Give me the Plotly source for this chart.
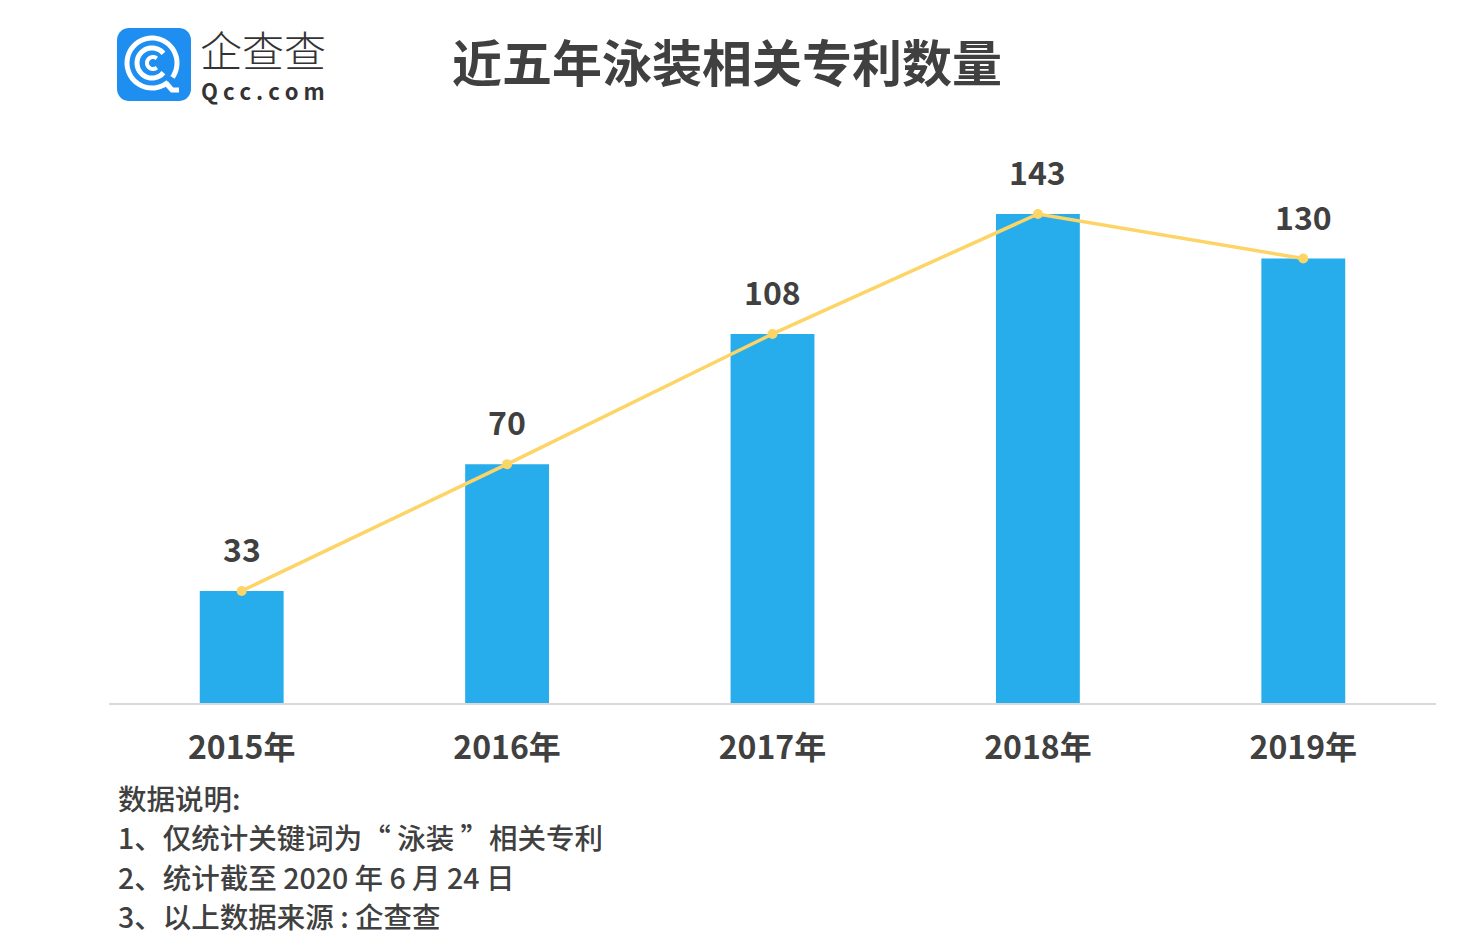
import math
import plotly.graph_objects as go

categories = ["2015年", "2016年", "2017年", "2018年", "2019年"]
values = [33, 70, 108, 143, 130]
title_text = "近五年泳装相关专利数量"
notes = ["数据说明:", "1、仅统计关键词为“ 泳装 ”相关专利", "2、统计截至 2020 年 6 月 24 日", "3、以上数据来源 : 企查查"]

OFF = 8  # page offset of the figure
W, H = 1466, 945
L, R, T, B = 109 - OFF, 30 + OFF, 150 - OFF, 241 + OFF
PW, PH = W - L - R, H - T - B
FONT = "Noto Sans CJK SC"
TXT = "#404040"
BAR = "#27ADEB"
LINE = "#FDD466"


def px(x, y):
    x -= OFF
    y -= OFF
    return (x - L) / PW, (H - B - y) / PH


fig = go.Figure()
fig.add_trace(go.Bar(x=categories, y=values, marker=dict(color=BAR, line=dict(width=0)),
                     hoverinfo="skip", showlegend=False))
fig.add_trace(go.Scatter(x=categories, y=values, mode="lines+markers",
                         line=dict(color=LINE, width=3.5), marker=dict(color=LINE, size=10),
                         showlegend=False, cliponaxis=False, hoverinfo="skip"))

shapes = []
x0, y0 = px(109, 704)
x1, _ = px(1436, 704)
shapes.append(dict(type="line", xref="paper", yref="paper", x0=x0, x1=x1, y0=y0, y1=y0,
                   line=dict(color="#D9D9D9", width=2), layer="above"))


def path_from_pts(pts, close=False):
    s = ""
    for i, (x, y) in enumerate(pts):
        a, b = px(x, y)
        s += ("M" if i == 0 else "L") + f"{a:.5f},{b:.5f} "
    if close:
        s += "Z"
    return s


rx0, ry0, rx1, ry1, rr = 117, 28, 191, 101, 12
pts = []
for cx, cy, a0 in [(rx1 - rr, ry0 + rr, -90), (rx1 - rr, ry1 - rr, 0), (rx0 + rr, ry1 - rr, 90), (rx0 + rr, ry0 + rr, 180)]:
    for k in range(10):
        a = math.radians(a0 + 90 * k / 9)
        pts.append((cx + rr * math.cos(a), cy + rr * math.sin(a)))
shapes.append(dict(type="path", xref="paper", yref="paper", path=path_from_pts(pts, True),
                   fillcolor="#1E8FF0", line=dict(width=0)))


def arc(cx, cy, r, a0, a1, n=40):
    return [(cx + r * math.cos(math.radians(a0 + (a1 - a0) * k / n)),
             cy + r * math.sin(math.radians(a0 + (a1 - a0) * k / n))) for k in range(n + 1)]


ccx, ccy = 152, 63
shapes.append(dict(type="path", xref="paper", yref="paper", path=path_from_pts(arc(ccx, ccy, 25, 50, 395, 60)),
                   line=dict(color="white", width=5)))
shapes.append(dict(type="path", xref="paper", yref="paper",
                   path=path_from_pts([(ccx + 14, ccy + 20), (ccx + 20, ccy + 27), (ccx + 27, ccy + 27)]),
                   line=dict(color="white", width=5)))
shapes.append(dict(type="path", xref="paper", yref="paper", path=path_from_pts(arc(ccx, ccy, 15, 40, 320, 50)),
                   line=dict(color="white", width=5)))
shapes.append(dict(type="path", xref="paper", yref="paper", path=path_from_pts(arc(ccx + 1, ccy, 6, 50, 310, 30)),
                   line=dict(color="white", width=4)))

annotations = []
for c, v in zip(categories, values):
    annotations.append(dict(text=str(v), x=c, y=v, xref="x", yref="y", showarrow=False,
                            xanchor="center", yanchor="middle", yshift=43,
                            font=dict(family=FONT, size=32, color=TXT, weight="bold")))
ax, ay = px(727, 60)
annotations.append(dict(text=title_text, x=ax, y=ay, xref="paper", yref="paper", showarrow=False,
                        xanchor="center", yanchor="middle",
                        font=dict(family=FONT, size=50, color=TXT, weight="bold")))
ax, ay = px(198, 48)
annotations.append(dict(text="企查查", x=ax, y=ay, xref="paper", yref="paper", showarrow=False,
                        xanchor="left", yanchor="middle",
                        font=dict(family=FONT, size=42, color="#333333", weight=300)))
ax, ay = px(199, 90)
annotations.append(dict(text="Q c c . c o m", x=ax, y=ay, xref="paper", yref="paper", showarrow=False,
                        xanchor="left", yanchor="middle",
                        font=dict(family=FONT, size=22, color="#333333", weight="bold")))
for i, n in enumerate(notes):
    ax, ay = px(116, 797 + 39.5 * i)
    annotations.append(dict(text=n, x=ax, y=ay, xref="paper", yref="paper", showarrow=False,
                            xanchor="left", yanchor="middle",
                            font=dict(family=FONT, size=28.5, color=TXT, weight=500)))

fig.update_layout(
    width=W, height=H, margin=dict(l=L, r=R, t=T, b=B),
    paper_bgcolor="white", plot_bgcolor="white",
    bargap=0.684,
    xaxis=dict(showgrid=False, showline=False, ticks="", zeroline=False,
               tickfont=dict(family=FONT, size=32, color=TXT, weight="bold"), ticklabelstandoff=22),
    yaxis=dict(range=[0, PH / (490 / 143)], showgrid=False, showline=False, zeroline=False,
               showticklabels=False, ticks=""),
    shapes=shapes, annotations=annotations, showlegend=False,
)
fig.write_html("out.html")
